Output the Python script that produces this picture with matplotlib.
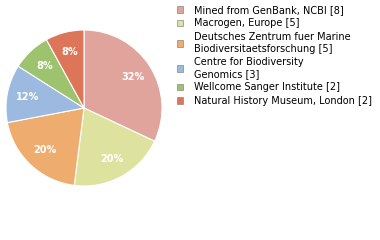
import matplotlib.pyplot as plt

labels = ["Mined from GenBank, NCBI [8]",
          "Macrogen, Europe [5]",
          "Deutsches Zentrum fuer Marine\nBiodiversitaetsforschung [5]",
          "Centre for Biodiversity\nGenomics [3]",
          "Wellcome Sanger Institute [2]",
          "Natural History Museum, London [2]"]
counts = [8, 5, 5, 3, 2, 2]
colors = ["#e0a49c", "#dde39e", "#eeac6e", "#9cbadf", "#9dc36f", "#dd7558"]

fig = plt.figure(figsize=(3.8, 2.4), dpi=100)
ax = fig.add_axes([84/380 - 78/380, 1 - (108 + 78)/240, 156/380, 156/240])

wedges, texts, autotexts = ax.pie(counts, colors=colors, startangle=90, counterclock=False,
                                  autopct=lambda p: f"{p:.0f}%", pctdistance=0.74,
                                  wedgeprops=dict(linewidth=0.8, edgecolor="white"),
                                  textprops=dict(color="white", fontsize=7, fontweight="bold"))
ax.set_xlim(-1, 1)
ax.set_ylim(-1, 1)
ax.set_aspect("equal")

leg = fig.legend(wedges, labels, loc="upper left", bbox_to_anchor=(173/380, 1 - 1/240),
                 frameon=False, fontsize=7, handlelength=0.65, handleheight=0.65,
                 handletextpad=1.1, labelspacing=0.35, borderaxespad=0)
for h in leg.legend_handles:
    h.set_edgecolor("#888888")
    h.set_linewidth(0.5)
for t in leg.get_texts():
    t.set_linespacing(1.25)

fig.savefig("out.png", dpi=100)
